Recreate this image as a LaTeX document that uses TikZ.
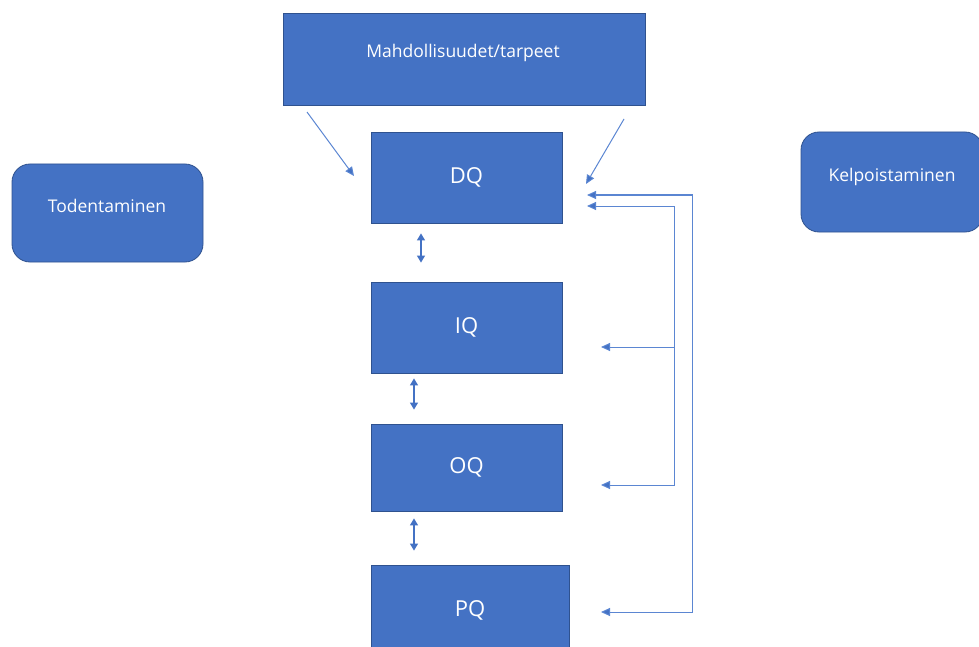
\documentclass[tikz,border=0pt]{standalone}
\usepackage{fontspec}
\setmainfont{Open Sans}
\usetikzlibrary{arrows.meta}
\definecolor{boxblue}{HTML}{4472C4}
\definecolor{boxedge}{HTML}{2F528F}
\definecolor{linkblue}{HTML}{5B86D2}
\tikzset{
  qbox/.style={draw=boxedge, line width=0.8pt, fill=boxblue, text=white, minimum width=191pt, minimum height=91pt, inner sep=0pt, font=\fontsize{22}{26}\selectfont},
  sidebox/.style={draw=boxedge, line width=0.8pt, fill=boxblue, rounded corners=18pt, inner sep=0pt},
  lbl/.style={text=white, inner sep=0pt, font=\fontsize{17.5}{20}\selectfont},
  link/.style={draw=linkblue, line width=1pt, -{Triangle[length=9pt,width=8pt,fill=boxblue]}},
  linkboth/.style={draw=linkblue, line width=1pt, {Triangle[length=9pt,width=8pt,fill=boxblue]}-{Triangle[length=9pt,width=8pt,fill=boxblue]}},
  dbl/.style={draw=boxblue, line width=1.3pt, {Triangle[length=7pt,width=8pt]}-{Triangle[length=7pt,width=8pt]}}
}
\begin{document}
\begin{tikzpicture}[x=1pt,y=-1pt]
\useasboundingbox (0,0) rectangle (979,647);
\clip (0,0) rectangle (979,647);
\node[qbox, minimum width=362pt, minimum height=92pt] (top) at (464,59) {};
\node[lbl] (toplbl) at (463,53) {Mahdollisuudet/tarpeet};
\node[qbox] (dq) at (466.5,177.5) {DQ};
\node[qbox] (iq) at (466.5,327.5) {IQ};
\node[qbox, minimum height=87pt] (oq) at (466.5,467.5) {OQ};
\node[qbox, minimum width=198pt, minimum height=90pt] (pq) at (470,610) {PQ};
\node[sidebox, minimum width=191pt, minimum height=98pt] (tod) at (107.5,213) {};
\node[lbl] (todlbl) at (107,206) {Todentaminen};
\node[sidebox, minimum width=182pt, minimum height=100pt] (kel) at (892,182) {};
\node[lbl] (kellbl) at (892,177) {Kelpoistaminen};
% diagonal arrows
\coordinate (l1) at (307,112); \coordinate (l2) at (354,176);
\coordinate (r1) at (624,119); \coordinate (r2) at (586,184);
\draw[link] (l1) -- (l2);
\draw[link] (r1) -- (r2);
% feedback connectors
\coordinate (dqa) at (587,195);
\coordinate (dqb) at (587,206);
\coordinate (iqa) at (601,347);
\coordinate (oqa) at (601,485);
\coordinate (pqa) at (601,612);
\coordinate (inner) at (674,347);
\draw[linkboth] (pqa) -- (692,612) -- (692,195) -- (dqa);
\draw[linkboth] (dqb) -- (674,206) -- (674,485) -- (oqa);
\draw[link] (inner) -- (iqa);
% double arrows between stages
\coordinate (ax1) at (421,0);
\coordinate (ax2) at (414,0);
\draw[dbl] ([yshift=-10pt]dq.south -| ax1) -- ([yshift=19pt]iq.north -| ax1);
\draw[dbl] ([yshift=-5pt]iq.south -| ax2) -- ([yshift=14pt]oq.north -| ax2);
\draw[dbl] ([yshift=-7pt]oq.south -| ax2) -- ([yshift=14pt]pq.north -| ax2);
\end{tikzpicture}
\end{document}
